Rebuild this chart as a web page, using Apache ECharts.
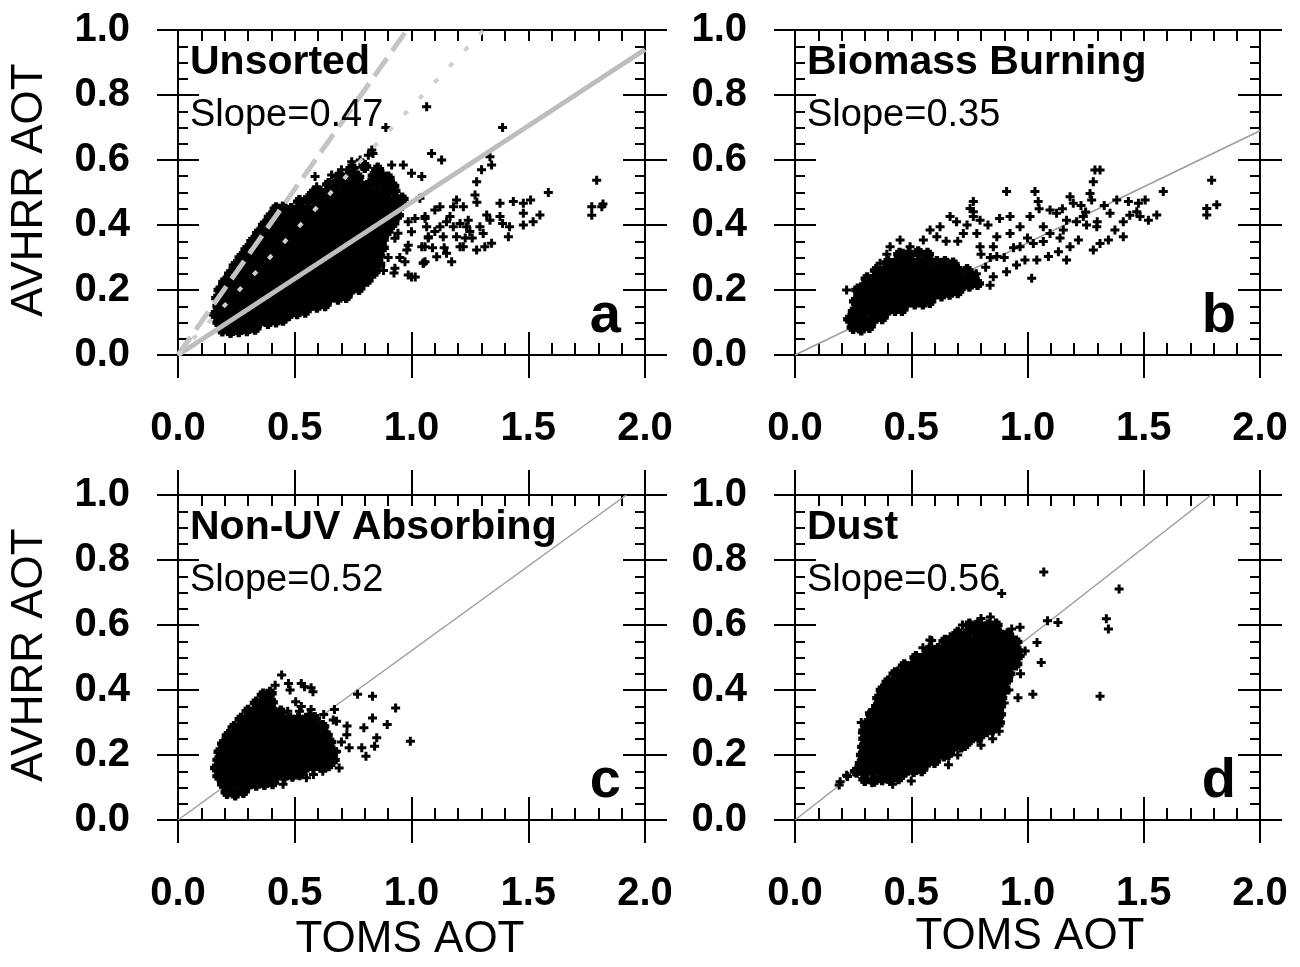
<!DOCTYPE html>
<html>
<head>
<meta charset="utf-8">
<title>AVHRR AOT vs TOMS AOT</title>
<script src="https://cdn.jsdelivr.net/npm/echarts@6/dist/echarts.min.js"></script>
<style>
  html, body { margin: 0; padding: 0; background: #fff; }
  #chart { width: 1300px; height: 967px; }
</style>
</head>
<body>
<div id="chart"></div>
<script>
// axis ticks
var xTicks = [0, 0.5, 1.0, 1.5, 2.0];
var yTicks = [0, 0.2, 0.4, 0.6, 0.8, 1.0];

// panel a - unsorted (dense core + scattered points), TOMS x / AVHRR y
var aDense = [
  [0.19,0.077],[0.225,0.072],[0.26,0.075],[0.295,0.078],[0.33,0.082],
  [0.175,0.10],[0.21,0.10],[0.245,0.098],[0.28,0.10],[0.315,0.10],[0.35,0.103],[0.385,0.10],[0.42,0.105],[0.45,0.11],
  [0.16,0.125],[0.195,0.125],[0.23,0.125],[0.265,0.125],[0.30,0.125],[0.335,0.125],[0.37,0.125],[0.405,0.125],[0.44,0.125],[0.475,0.125],[0.51,0.13],[0.545,0.135],
  [0.175,0.15],[0.21,0.15],[0.245,0.15],[0.28,0.15],[0.315,0.15],[0.35,0.15],[0.385,0.15],[0.42,0.15],[0.455,0.15],[0.49,0.15],[0.525,0.15],[0.56,0.15],[0.595,0.15],[0.63,0.155],
  [0.17,0.175],[0.195,0.175],[0.23,0.175],[0.265,0.175],[0.30,0.175],[0.335,0.175],[0.37,0.175],[0.405,0.175],[0.44,0.175],[0.475,0.175],[0.51,0.175],[0.545,0.175],[0.58,0.175],[0.615,0.175],[0.65,0.175],[0.685,0.175],[0.72,0.18],
  [0.18,0.20],[0.215,0.20],[0.25,0.20],[0.285,0.20],[0.32,0.20],[0.355,0.20],[0.39,0.20],[0.425,0.20],[0.46,0.20],[0.495,0.20],[0.53,0.20],[0.565,0.20],[0.60,0.20],[0.635,0.20],[0.67,0.20],[0.705,0.20],[0.74,0.20],[0.775,0.205],
  [0.20,0.225],[0.23,0.225],[0.265,0.225],[0.30,0.225],[0.335,0.225],[0.37,0.225],[0.405,0.225],[0.44,0.225],[0.475,0.225],[0.51,0.225],[0.545,0.225],[0.58,0.225],[0.615,0.225],[0.65,0.225],[0.685,0.225],[0.72,0.225],[0.755,0.225],[0.79,0.225],[0.81,0.23],
  [0.225,0.25],[0.25,0.25],[0.285,0.25],[0.32,0.25],[0.355,0.25],[0.39,0.25],[0.425,0.25],[0.46,0.25],[0.495,0.25],[0.53,0.25],[0.565,0.25],[0.60,0.25],[0.635,0.25],[0.67,0.25],[0.705,0.25],[0.74,0.25],[0.775,0.25],[0.81,0.25],[0.84,0.255],
  [0.245,0.275],[0.27,0.275],[0.305,0.275],[0.34,0.275],[0.375,0.275],[0.41,0.275],[0.445,0.275],[0.48,0.275],[0.515,0.275],[0.55,0.275],[0.585,0.275],[0.62,0.275],[0.655,0.275],[0.69,0.275],[0.725,0.275],[0.76,0.275],[0.795,0.275],[0.83,0.275],[0.86,0.28],
  [0.27,0.30],[0.30,0.30],[0.335,0.30],[0.37,0.30],[0.405,0.30],[0.44,0.30],[0.475,0.30],[0.51,0.30],[0.545,0.30],[0.58,0.30],[0.615,0.30],[0.65,0.30],[0.685,0.30],[0.72,0.30],[0.755,0.30],[0.79,0.30],[0.825,0.30],[0.86,0.305],
  [0.295,0.325],[0.32,0.325],[0.355,0.325],[0.39,0.325],[0.425,0.325],[0.46,0.325],[0.495,0.325],[0.53,0.325],[0.565,0.325],[0.60,0.325],[0.635,0.325],[0.67,0.325],[0.705,0.325],[0.74,0.325],[0.775,0.325],[0.81,0.325],[0.845,0.325],[0.875,0.33],
  [0.32,0.35],[0.35,0.35],[0.385,0.35],[0.42,0.35],[0.455,0.35],[0.49,0.35],[0.525,0.35],[0.56,0.35],[0.595,0.35],[0.63,0.35],[0.665,0.35],[0.70,0.35],[0.735,0.35],[0.77,0.35],[0.805,0.35],[0.84,0.35],[0.875,0.355],
  [0.345,0.375],[0.37,0.375],[0.405,0.375],[0.44,0.375],[0.475,0.375],[0.51,0.375],[0.545,0.375],[0.58,0.375],[0.615,0.375],[0.65,0.375],[0.685,0.375],[0.72,0.375],[0.755,0.375],[0.79,0.375],[0.825,0.375],[0.86,0.375],[0.895,0.38],
  [0.37,0.40],[0.40,0.40],[0.435,0.40],[0.47,0.40],[0.505,0.40],[0.54,0.40],[0.575,0.40],[0.61,0.40],[0.645,0.40],[0.68,0.40],[0.715,0.40],[0.75,0.40],[0.785,0.40],[0.82,0.40],[0.855,0.40],[0.89,0.40],[0.92,0.405],
  [0.395,0.425],[0.42,0.425],[0.455,0.425],[0.49,0.425],[0.525,0.425],[0.56,0.425],[0.595,0.425],[0.63,0.425],[0.665,0.425],[0.70,0.425],[0.735,0.425],[0.77,0.425],[0.805,0.425],[0.84,0.425],[0.875,0.425],[0.91,0.425],[0.94,0.43],
  [0.42,0.45],[0.45,0.452],[0.485,0.448],[0.52,0.45],[0.555,0.45],[0.59,0.45],[0.625,0.45],[0.66,0.45],[0.695,0.45],[0.73,0.45],[0.765,0.45],[0.80,0.45],[0.835,0.45],[0.87,0.45],[0.905,0.45],[0.94,0.45],
  [0.52,0.472],[0.555,0.478],[0.59,0.475],[0.625,0.475],[0.66,0.475],[0.695,0.475],[0.73,0.475],[0.765,0.475],[0.80,0.475],[0.835,0.475],[0.87,0.475],[0.905,0.475],[0.94,0.475],[0.96,0.48],
  [0.58,0.498],[0.61,0.50],[0.645,0.50],[0.68,0.50],[0.715,0.50],[0.75,0.50],[0.785,0.50],[0.82,0.50],[0.855,0.50],[0.89,0.50],[0.925,0.505],
  [0.645,0.525],[0.68,0.528],[0.715,0.525],[0.75,0.525],[0.785,0.522],[0.82,0.525],[0.855,0.528],[0.89,0.525],[0.92,0.52],
  [0.69,0.55],[0.735,0.555],[0.77,0.548],[0.84,0.552],[0.875,0.55],[0.90,0.545],
  [0.745,0.575],[0.80,0.58],[0.855,0.572]
];
var aScatter = [
  [0.587,0.549],[0.594,0.518],[0.658,0.554],[0.70,0.57],[0.744,0.595],[0.78,0.60],[0.815,0.615],[0.83,0.631],[0.835,0.62],
  [0.915,0.585],[0.965,0.585],[1.0,0.559],[1.044,0.549],[0.89,0.70],[1.065,0.764],
  [0.929,0.267],[0.986,0.246],[1.0,0.24],[1.058,0.287],[0.972,0.287],[0.986,0.338],[1.044,0.333],[1.0,0.379],[1.058,0.42],
  [1.015,0.42],[1.072,0.36],[0.986,0.41],[0.929,0.359],[0.925,0.252],[1.016,0.24],[1.05,0.283],[0.98,0.323],[0.942,0.375],
  [0.90,0.30],[0.88,0.26],[0.95,0.30],
  [1.086,0.62],[1.129,0.60],[1.39,0.70],[1.336,0.61],[1.30,0.57],[1.343,0.585],[1.279,0.533],[1.586,0.50],[1.793,0.538],
  [1.772,0.456],[1.815,0.456],[1.772,0.43],[1.82,0.465],[1.272,0.492],[1.28,0.47],[1.193,0.477],[1.18,0.456],[1.379,0.467],
  [1.436,0.472],[1.479,0.467],[1.51,0.477],[1.479,0.436],[1.55,0.431],[1.521,0.41],[1.479,0.40],[1.42,0.395],[1.39,0.405],
  [1.379,0.426],[1.415,0.364],[1.322,0.431],[1.336,0.415],[1.293,0.395],[1.307,0.374],[1.343,0.344],[1.314,0.333],[1.279,0.323],
  [1.243,0.415],[1.236,0.395],[1.25,0.38],[1.208,0.405],[1.222,0.456],[1.165,0.426],[1.179,0.395],[1.193,0.364],[1.208,0.333],
  [1.222,0.333],[1.15,0.313],[1.136,0.364],[1.122,0.395],[1.10,0.446],[1.122,0.456],[1.058,0.426],[1.065,0.395],[1.072,0.364],
  [1.058,0.333],[1.108,0.302],[1.172,0.287],[1.051,0.282],[1.036,0.482],[1.26,0.36],[1.23,0.36],[1.15,0.41],[1.10,0.38],
  [1.09,0.33],[1.14,0.33]
];
var aFitLine = [[0, 0], [2.0, 0.94]];
var aOneToOne = [[0, 0], [0.98, 1.0]];
var aDotLine = [[0, 0], [1.31, 1.0]];

// panel b - biomass burning
var bDense = [
  [0.25,0.085],[0.285,0.08],[0.32,0.088],
  [0.235,0.11],[0.27,0.11],[0.305,0.105],[0.34,0.11],[0.375,0.115],
  [0.255,0.135],[0.29,0.135],[0.325,0.135],[0.36,0.135],[0.395,0.135],[0.43,0.14],[0.46,0.14],
  [0.26,0.165],[0.27,0.16],[0.305,0.16],[0.34,0.16],[0.375,0.16],[0.41,0.16],[0.445,0.16],[0.48,0.16],[0.515,0.16],[0.55,0.16],[0.58,0.165],
  [0.28,0.185],[0.315,0.185],[0.35,0.185],[0.385,0.185],[0.42,0.185],[0.455,0.185],[0.49,0.185],[0.525,0.185],[0.56,0.185],[0.595,0.185],[0.63,0.185],[0.665,0.19],[0.70,0.195],
  [0.27,0.20],[0.295,0.21],[0.33,0.21],[0.365,0.21],[0.40,0.21],[0.435,0.21],[0.47,0.21],[0.505,0.21],[0.54,0.21],[0.575,0.21],[0.61,0.21],[0.645,0.21],[0.68,0.21],[0.715,0.21],[0.75,0.215],[0.785,0.22],
  [0.31,0.235],[0.345,0.235],[0.38,0.235],[0.415,0.235],[0.45,0.235],[0.485,0.235],[0.52,0.235],[0.555,0.235],[0.59,0.235],[0.625,0.235],[0.66,0.235],[0.695,0.235],[0.73,0.235],[0.765,0.24],
  [0.35,0.26],[0.385,0.26],[0.42,0.26],[0.455,0.26],[0.49,0.26],[0.525,0.26],[0.56,0.26],[0.595,0.26],[0.63,0.26],[0.665,0.26],[0.70,0.26],[0.74,0.26],
  [0.40,0.285],[0.435,0.285],[0.47,0.285],[0.505,0.285],[0.54,0.285],[0.575,0.29],[0.61,0.285],[0.645,0.285],[0.68,0.28],
  [0.45,0.31],[0.49,0.31],[0.53,0.315],[0.57,0.31]
];
var bScatter = [
  [0.222,0.20],[0.767,0.472],[0.767,0.441],[0.91,0.503],[1.032,0.503],[1.046,0.472],[1.183,0.487],[1.197,0.467],[1.269,0.497],
  [1.276,0.477],[1.283,0.533],[1.29,0.569],[1.312,0.569],[1.584,0.503],[1.792,0.538],[1.771,0.451],[1.814,0.462],[1.771,0.431],
  [1.384,0.477],[1.434,0.472],[1.477,0.467],[1.506,0.477],[1.47,0.441],[1.484,0.426],[1.52,0.415],[1.556,0.431],[1.412,0.41],
  [1.412,0.364],[1.376,0.385],[1.348,0.354],[1.312,0.343],[1.283,0.323],[1.298,0.395],[1.355,0.436],[1.24,0.426],[1.211,0.41],
  [1.254,0.40],[1.219,0.354],[1.183,0.333],[1.168,0.292],[1.133,0.318],[1.14,0.36],[1.154,0.385],[1.168,0.415],[1.125,0.436],
  [1.097,0.446],[1.068,0.395],[1.068,0.349],[1.025,0.343],[1.011,0.426],[0.968,0.395],[0.968,0.333],[1.04,0.292],[1.018,0.236],
  [1.09,0.303],[1.097,0.374],[0.925,0.426],[0.925,0.374],[0.91,0.256],[0.953,0.277],[0.989,0.292],[0.868,0.364],[0.853,0.333],
  [0.868,0.303],[0.853,0.241],[0.839,0.215],[0.782,0.374],[0.796,0.333],[0.724,0.374],[0.695,0.41],[0.667,0.426],[0.624,0.395],
  [0.61,0.364],[0.581,0.385],[0.552,0.354],[0.495,0.333],[0.466,0.313],[0.395,0.31],[0.366,0.282],[0.409,0.333],[0.452,0.354],
  [0.767,0.426],[0.796,0.415],[0.753,0.451],[0.74,0.40],[0.70,0.35],[0.65,0.35],[0.83,0.40],[0.88,0.42],[1.0,0.36],[1.05,0.45],
  [1.15,0.45],[1.23,0.46],[1.33,0.46],[1.25,0.44],[1.3,0.41],[1.44,0.43],[0.90,0.30],[0.94,0.33],[0.82,0.27],[0.78,0.25],
  [0.80,0.31],[0.84,0.30]
];
var bFitLine = [[0, 0], [2.0, 0.69]];

// panel c - non-UV absorbing
var cDense = [
  [0.21,0.085],[0.245,0.08],[0.28,0.088],
  [0.195,0.11],[0.23,0.11],[0.265,0.11],[0.30,0.108],[0.335,0.11],[0.37,0.112],[0.405,0.115],
  [0.175,0.135],[0.21,0.135],[0.245,0.135],[0.28,0.135],[0.315,0.135],[0.35,0.135],[0.385,0.135],[0.42,0.135],[0.455,0.135],[0.49,0.138],[0.52,0.142],
  [0.165,0.16],[0.195,0.16],[0.23,0.16],[0.265,0.16],[0.30,0.16],[0.335,0.16],[0.37,0.16],[0.405,0.16],[0.44,0.16],[0.475,0.16],[0.51,0.16],[0.545,0.16],[0.58,0.165],[0.615,0.165],[0.645,0.17],
  [0.175,0.185],[0.21,0.185],[0.245,0.185],[0.28,0.185],[0.315,0.185],[0.35,0.185],[0.385,0.185],[0.42,0.185],[0.455,0.185],[0.49,0.185],[0.525,0.185],[0.56,0.185],[0.595,0.185],[0.63,0.185],[0.665,0.185],
  [0.18,0.21],[0.215,0.21],[0.25,0.21],[0.285,0.21],[0.32,0.21],[0.355,0.21],[0.39,0.21],[0.425,0.21],[0.46,0.21],[0.495,0.21],[0.53,0.21],[0.565,0.21],[0.60,0.21],[0.635,0.21],[0.665,0.21],
  [0.195,0.235],[0.23,0.235],[0.265,0.235],[0.30,0.235],[0.335,0.235],[0.37,0.235],[0.405,0.235],[0.44,0.235],[0.475,0.235],[0.51,0.235],[0.545,0.235],[0.58,0.235],[0.615,0.235],[0.65,0.24],
  [0.215,0.26],[0.25,0.26],[0.285,0.26],[0.32,0.26],[0.355,0.26],[0.39,0.26],[0.425,0.26],[0.46,0.26],[0.495,0.26],[0.53,0.26],[0.565,0.26],[0.60,0.26],[0.635,0.262],
  [0.24,0.285],[0.27,0.285],[0.305,0.285],[0.34,0.285],[0.375,0.285],[0.41,0.285],[0.445,0.285],[0.48,0.285],[0.515,0.285],[0.55,0.285],[0.585,0.285],[0.62,0.288],
  [0.27,0.31],[0.305,0.31],[0.34,0.31],[0.375,0.31],[0.41,0.31],[0.445,0.31],[0.48,0.31],[0.515,0.31],[0.55,0.31],[0.585,0.312],
  [0.30,0.335],[0.335,0.335],[0.37,0.335],[0.405,0.335],[0.44,0.332],
  [0.335,0.36],[0.37,0.36],[0.40,0.362],
  [0.365,0.385],[0.395,0.39]
];
var cScatter = [
  [0.444,0.446],[0.416,0.415],[0.473,0.42],[0.48,0.40],[0.528,0.42],[0.542,0.41],[0.57,0.407],[0.578,0.395],[0.504,0.364],
  [0.528,0.349],[0.769,0.387],[0.833,0.381],[0.932,0.345],[0.995,0.242],[0.833,0.314],[0.896,0.294],[0.796,0.284],[0.724,0.289],
  [0.679,0.304],[0.67,0.34],[0.624,0.325],[0.851,0.253],[0.842,0.227],[0.787,0.222],[0.733,0.222],[0.679,0.211],[0.805,0.196],
  [0.723,0.262],[0.665,0.308],[0.70,0.24],[0.69,0.16],[0.66,0.18],[0.62,0.15],[0.58,0.14],[0.55,0.13],[0.45,0.11],[0.60,0.30],
  [0.57,0.34],[0.52,0.335],[0.47,0.335],[0.56,0.325]
];
var cFitLine = [[0, 0], [1.92, 1.0]];

// panel d - dust
var dDense = [
  [0.30,0.125],[0.34,0.122],[0.375,0.127],[0.41,0.125],[0.445,0.13],
  [0.265,0.15],[0.30,0.15],[0.335,0.15],[0.37,0.15],[0.405,0.15],[0.44,0.15],[0.475,0.15],[0.51,0.152],[0.545,0.155],
  [0.285,0.175],[0.32,0.175],[0.355,0.175],[0.39,0.175],[0.425,0.175],[0.46,0.175],[0.495,0.175],[0.53,0.175],[0.565,0.175],[0.60,0.18],
  [0.29,0.20],[0.325,0.20],[0.36,0.20],[0.395,0.20],[0.43,0.20],[0.465,0.20],[0.50,0.20],[0.535,0.20],[0.57,0.20],[0.605,0.20],[0.64,0.20],[0.66,0.205],
  [0.295,0.225],[0.33,0.225],[0.365,0.225],[0.40,0.225],[0.435,0.225],[0.47,0.225],[0.505,0.225],[0.54,0.225],[0.575,0.225],[0.61,0.225],[0.645,0.225],[0.68,0.225],[0.715,0.228],[0.73,0.232],
  [0.30,0.25],[0.335,0.25],[0.37,0.25],[0.405,0.25],[0.44,0.25],[0.475,0.25],[0.51,0.25],[0.545,0.25],[0.58,0.25],[0.615,0.25],[0.65,0.25],[0.685,0.25],[0.72,0.25],[0.755,0.25],[0.79,0.255],
  [0.30,0.275],[0.335,0.275],[0.37,0.275],[0.405,0.275],[0.44,0.275],[0.475,0.275],[0.51,0.275],[0.545,0.275],[0.58,0.275],[0.615,0.275],[0.65,0.275],[0.685,0.275],[0.72,0.275],[0.755,0.275],[0.79,0.275],[0.825,0.275],[0.85,0.28],
  [0.315,0.30],[0.35,0.30],[0.385,0.30],[0.42,0.30],[0.455,0.30],[0.49,0.30],[0.525,0.30],[0.56,0.30],[0.595,0.30],[0.63,0.30],[0.665,0.30],[0.70,0.30],[0.735,0.30],[0.77,0.30],[0.805,0.30],[0.84,0.30],[0.875,0.30],
  [0.33,0.325],[0.365,0.325],[0.40,0.325],[0.435,0.325],[0.47,0.325],[0.505,0.325],[0.54,0.325],[0.575,0.325],[0.61,0.325],[0.645,0.325],[0.68,0.325],[0.715,0.325],[0.75,0.325],[0.785,0.325],[0.82,0.325],[0.855,0.325],[0.88,0.325],
  [0.355,0.35],[0.39,0.35],[0.425,0.35],[0.46,0.35],[0.495,0.35],[0.53,0.35],[0.565,0.35],[0.60,0.35],[0.635,0.35],[0.67,0.35],[0.705,0.35],[0.74,0.35],[0.775,0.35],[0.81,0.35],[0.845,0.35],[0.88,0.35],
  [0.36,0.375],[0.395,0.375],[0.43,0.375],[0.465,0.375],[0.50,0.375],[0.535,0.375],[0.57,0.375],[0.605,0.375],[0.64,0.375],[0.675,0.375],[0.71,0.375],[0.745,0.375],[0.78,0.375],[0.815,0.375],[0.85,0.375],[0.885,0.375],
  [0.375,0.40],[0.41,0.40],[0.445,0.40],[0.48,0.40],[0.515,0.40],[0.55,0.40],[0.585,0.40],[0.62,0.40],[0.655,0.40],[0.69,0.40],[0.725,0.40],[0.76,0.40],[0.795,0.40],[0.83,0.40],[0.865,0.40],[0.90,0.40],
  [0.40,0.425],[0.435,0.425],[0.47,0.425],[0.505,0.425],[0.54,0.425],[0.575,0.425],[0.61,0.425],[0.645,0.425],[0.68,0.425],[0.715,0.425],[0.75,0.425],[0.785,0.425],[0.82,0.425],[0.855,0.425],[0.89,0.425],[0.91,0.43],
  [0.43,0.45],[0.465,0.45],[0.50,0.45],[0.535,0.45],[0.57,0.45],[0.605,0.45],[0.64,0.45],[0.675,0.45],[0.71,0.45],[0.745,0.45],[0.78,0.45],[0.815,0.45],[0.85,0.45],[0.885,0.45],[0.92,0.45],
  [0.47,0.475],[0.505,0.475],[0.54,0.475],[0.575,0.475],[0.61,0.475],[0.645,0.475],[0.68,0.475],[0.715,0.475],[0.75,0.475],[0.785,0.475],[0.82,0.475],[0.855,0.475],[0.89,0.475],[0.925,0.475],[0.95,0.48],
  [0.52,0.50],[0.555,0.50],[0.59,0.50],[0.625,0.50],[0.66,0.50],[0.695,0.50],[0.73,0.50],[0.765,0.50],[0.80,0.50],[0.835,0.50],[0.87,0.50],[0.905,0.50],[0.94,0.50],[0.96,0.505],
  [0.58,0.525],[0.615,0.525],[0.65,0.525],[0.685,0.525],[0.72,0.525],[0.755,0.525],[0.79,0.525],[0.825,0.525],[0.86,0.525],[0.895,0.525],[0.93,0.525],[0.955,0.522],
  [0.645,0.55],[0.68,0.55],[0.715,0.55],[0.75,0.55],[0.785,0.55],[0.82,0.55],[0.855,0.55],[0.89,0.55],[0.925,0.55],[0.95,0.548],
  [0.70,0.575],[0.74,0.575],[0.775,0.578],[0.81,0.575],[0.845,0.575],[0.88,0.572],[0.915,0.57],
  [0.75,0.60],[0.79,0.602],[0.83,0.598],[0.865,0.60]
];
var dScatter = [
  [0.194,0.118],[0.222,0.138],[0.19,0.108],[0.226,0.134],[0.255,0.148],[0.58,0.554],[0.588,0.552],[0.667,0.564],[0.679,0.562],
  [0.889,0.697],[1.07,0.763],[1.394,0.711],[1.339,0.619],[1.348,0.588],[1.312,0.381],[1.086,0.613],[1.131,0.608],[1.023,0.387],
  [0.959,0.376],[1.059,0.485],[1.041,0.546],[0.932,0.588],[0.968,0.593],[0.878,0.273],[0.878,0.289],[0.29,0.268],[0.371,0.356],
  [0.38,0.387],[0.443,0.459],[0.84,0.625],[0.80,0.62],[0.99,0.52],[0.97,0.45],[0.92,0.40],[0.90,0.36],[0.85,0.25],[0.80,0.23],
  [0.70,0.20],[0.66,0.17],[0.50,0.12],[0.42,0.11],[0.33,0.115],[0.285,0.30],[0.32,0.33],[0.40,0.42],[0.52,0.50],[0.55,0.53],
  [0.72,0.60]
];
var dFitLine = [[0, 0], [1.79, 1.0]];

var FONT = '"Liberation Sans", Arial, Helvetica, sans-serif';
var PLUS = 'path://M4,0H8V4H12V8H8V12H4V8H0V4H4Z';
var tickLine = { color: '#000', width: 2 };

var panels = [
  { left: 178, top: 30, width: 467, title: 'Unsorted', slope: 'Slope=0.47', letter: 'a',
    dense: aDense, sparse: aScatter, topOut: false },
  { left: 795, top: 30, width: 465, title: 'Biomass Burning', slope: 'Slope=0.35', letter: 'b',
    dense: bDense, sparse: bScatter, fit: bFitLine, topOut: false },
  { left: 178, top: 495, width: 467, title: 'Non-UV Absorbing', slope: 'Slope=0.52', letter: 'c',
    dense: cDense, sparse: cScatter, fit: cFitLine, topOut: true },
  { left: 795, top: 495, width: 465, title: 'Dust', slope: 'Slope=0.56', letter: 'd',
    dense: dDense, sparse: dScatter, fit: dFitLine, topOut: true }
];
var PH = 325;

function axisBase(dim, grid, pos) {
  return {
    type: 'value',
    gridIndex: grid,
    position: pos,
    min: 0,
    max: dim == 'x' ? xTicks[xTicks.length - 1] : yTicks[yTicks.length - 1],
    interval: dim == 'x' ? xTicks[1] - xTicks[0] : yTicks[1] - yTicks[0],
    axisLine: { show: true, onZero: false, lineStyle: { color: '#000', width: 2 } },
    axisLabel: { show: false },
    axisTick: { show: false },
    minorTick: { show: false },
    splitLine: { show: false },
    minorSplitLine: { show: false }
  };
}
function merge(a, b) {
  for (var k in b) a[k] = b[k];
  return a;
}
var labelStyle = {
  show: true, color: '#000', fontSize: 40, fontWeight: 'bold', fontFamily: FONT,
  showMinLabel: true, showMaxLabel: true,
  formatter: function (v) { return v.toFixed(1); }
};

var grids = [], xAxes = [], yAxes = [], series = [], graphics = [];

panels.forEach(function (p, i) {
  grids.push({ left: p.left, top: p.top, width: p.width, height: PH, outerBoundsMode: 'none' });

  // x axes: bottom (labels + outward major ticks), bottom inward, top inward, top outward (lower row)
  var xi = xAxes.length;
  xAxes.push(merge(axisBase('x', i, 'bottom'), {
    axisLabel: merge({ margin: 54 }, labelStyle),
    axisTick: { show: true, inside: false, length: 23, lineStyle: tickLine }
  }));
  xAxes.push(merge(axisBase('x', i, 'bottom'), {
    axisTick: { show: true, inside: true, length: 23, lineStyle: tickLine },
    minorTick: { show: true, splitNumber: 5, length: 12, lineStyle: tickLine }
  }));
  xAxes.push(merge(axisBase('x', i, 'top'), {
    axisTick: { show: true, inside: true, length: 11, lineStyle: tickLine },
    minorTick: { show: true, splitNumber: 5, length: 11, lineStyle: tickLine }
  }));
  if (p.topOut) {
    xAxes.push(merge(axisBase('x', i, 'top'), {
      axisTick: { show: true, inside: false, length: 25, lineStyle: tickLine }
    }));
  }

  // y axes: left (labels + outward), left inward, right inward, right outward
  var yi = yAxes.length;
  yAxes.push(merge(axisBase('y', i, 'left'), {
    axisLabel: merge({ margin: 48 }, labelStyle),
    axisTick: { show: true, inside: false, length: 21, lineStyle: tickLine }
  }));
  yAxes.push(merge(axisBase('y', i, 'left'), {
    axisTick: { show: true, inside: true, length: 21, lineStyle: tickLine },
    minorTick: { show: true, splitNumber: 4, length: 10, lineStyle: tickLine }
  }));
  yAxes.push(merge(axisBase('y', i, 'right'), {
    axisTick: { show: true, inside: true, length: 22, lineStyle: tickLine },
    minorTick: { show: true, splitNumber: 4, length: 10, lineStyle: tickLine }
  }));
  yAxes.push(merge(axisBase('y', i, 'right'), {
    axisTick: { show: true, inside: false, length: 22, lineStyle: tickLine }
  }));

  if (p.fit) {
    series.push({
      type: 'line', xAxisIndex: xi, yAxisIndex: yi, data: p.fit, symbol: 'none', silent: true,
      lineStyle: { color: '#9c9c9c', width: 1.5 }, z: 1
    });
  }
  // dense core: square fill under the crosses so the cloud reads solid
  series.push({
    type: 'scatter', xAxisIndex: xi, yAxisIndex: yi, data: p.dense,
    symbol: 'rect', symbolSize: 9, itemStyle: { color: '#000', opacity: 1 }, silent: true, z: 2
  });
  series.push({
    type: 'scatter', xAxisIndex: xi, yAxisIndex: yi, data: p.dense,
    symbol: PLUS, symbolSize: 13, itemStyle: { color: '#000', opacity: 1 }, silent: true, z: 2
  });
  series.push({
    type: 'scatter', xAxisIndex: xi, yAxisIndex: yi, data: p.sparse,
    symbol: PLUS, symbolSize: 9, itemStyle: { color: '#000', opacity: 1 }, silent: true, z: 2
  });
  if (p.letter == 'a') {
    series.push({
      type: 'line', xAxisIndex: xi, yAxisIndex: yi, data: aFitLine, symbol: 'none', silent: true,
      lineStyle: { color: '#bdbdbd', width: 5 }, z: 3
    });
    series.push({
      type: 'line', xAxisIndex: xi, yAxisIndex: yi, data: aOneToOne, symbol: 'none', silent: true,
      lineStyle: { color: '#c4c4c4', width: 5, type: [22, 9] }, z: 3
    });
    series.push({
      type: 'line', xAxisIndex: xi, yAxisIndex: yi, data: aDotLine, symbol: 'none', silent: true,
      lineStyle: { color: '#cfcfcf', width: 4, type: [5, 17] }, z: 3
    });
  }

  // panel texts
  var tx = p.left + 12;
  graphics.push({
    type: 'text', x: tx, y: p.top + 33, z: 10,
    style: { text: p.title, fontSize: 41, fontWeight: 'bold', fontFamily: FONT, fill: '#000',
             align: 'left', verticalAlign: 'middle' }
  });
  graphics.push({
    type: 'text', x: tx, y: p.top + 86, z: 10,
    style: { text: p.slope, fontSize: 38, fontFamily: FONT, fill: '#000',
             align: 'left', verticalAlign: 'middle' }
  });
  graphics.push({
    type: 'text', x: p.left + p.width - 24, y: p.top + 287, z: 10,
    style: { text: p.letter, fontSize: 56, fontWeight: 'bold', fontFamily: FONT, fill: '#000',
             align: 'right', verticalAlign: 'middle' }
  });
});

// axis titles
graphics.push({
  type: 'text', x: 30, y: 190, rotation: Math.PI / 2, z: 10,
  style: { text: 'AVHRR AOT', fontSize: 44, fontFamily: FONT, fill: '#000', align: 'center', verticalAlign: 'middle' }
});
graphics.push({
  type: 'text', x: 30, y: 655, rotation: Math.PI / 2, z: 10,
  style: { text: 'AVHRR AOT', fontSize: 44, fontFamily: FONT, fill: '#000', align: 'center', verticalAlign: 'middle' }
});
graphics.push({
  type: 'text', x: 410, y: 940, z: 10,
  style: { text: 'TOMS AOT', fontSize: 44, fontFamily: FONT, fill: '#000', align: 'center', verticalAlign: 'middle' }
});
graphics.push({
  type: 'text', x: 1030, y: 937, z: 10,
  style: { text: 'TOMS AOT', fontSize: 44, fontFamily: FONT, fill: '#000', align: 'center', verticalAlign: 'middle' }
});

var chart = echarts.init(document.getElementById('chart'));
chart.setOption({
  animation: false,
  backgroundColor: '#fff',
  grid: grids,
  xAxis: xAxes,
  yAxis: yAxes,
  series: series,
  graphic: graphics
});
</script>
</body>
</html>
